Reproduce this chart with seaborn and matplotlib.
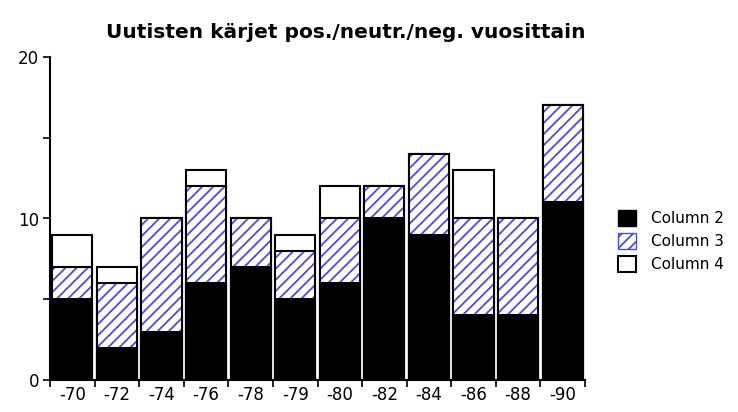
import matplotlib
matplotlib.use("Agg")
import matplotlib.pyplot as plt
import seaborn as sns
import pandas as pd
import numpy as np
from matplotlib.patches import Patch
from matplotlib.ticker import FixedLocator

categories = ["-70", "-72", "-74", "-76", "-78", "-79", "-80", "-82", "-84", "-86", "-88", "-90"]
col2 = [5, 2, 3, 6, 7, 5, 6, 10, 9, 4, 4, 11]
col3 = [2, 4, 7, 6, 3, 3, 4, 2, 5, 6, 6, 6]
col4 = [2, 1, 0, 1, 0, 1, 2, 0, 0, 3, 0, 0]
title = "Uutisten kärjet pos./neutr./neg. vuosittain"

sns.set_theme(style="white")
plt.rcParams['font.family'] = ['DejaVu Sans']
plt.rcParams['hatch.linewidth'] = 1.3
plt.rcParams['text.color'] = 'black'

df = pd.DataFrame({"cat": categories, "c2": col2, "c3": col3, "c4": col4})
df["s23"] = df["c2"] + df["c3"]
df["s234"] = df["s23"] + df["c4"]

fig = plt.figure(figsize=(7.38, 4.12), dpi=100)
ax = fig.add_axes([50/738, 1-380/412, (585-50)/738, (380-57)/412])

W = 0.9
LW = 1.5
HATCH_C = "#4a4af0"
sns.barplot(data=df, x="cat", y="s234", order=categories, color="white", saturation=1,
            edgecolor="black", linewidth=LW, width=W, ax=ax, errorbar=None)
sns.barplot(data=df, x="cat", y="s23", order=categories, color="white", saturation=1,
            edgecolor=HATCH_C, linewidth=0, hatch="///", width=W, ax=ax, errorbar=None)
sns.barplot(data=df, x="cat", y="s23", order=categories, fill=False,
            edgecolor="black", linewidth=LW, width=W, ax=ax, errorbar=None)
sns.barplot(data=df, x="cat", y="c2", order=categories, color="black", saturation=1,
            edgecolor="black", linewidth=LW, width=W, ax=ax, errorbar=None)

ax.set_xlim(-0.5, len(categories) - 0.5)
ax.set_ylim(0, 20)
ax.set_xlabel("")
ax.set_ylabel("")
ax.yaxis.set_major_locator(FixedLocator([0, 10, 20]))
ax.yaxis.set_minor_locator(FixedLocator([5, 15]))
ax.xaxis.set_minor_locator(FixedLocator(np.arange(-0.5, len(categories), 1.0)))
ax.tick_params(axis="x", which="major", length=0, labelsize=12, pad=4, colors="black")
ax.tick_params(axis="x", which="minor", length=5, width=1.2, direction="out", bottom=True, color="black")
ax.tick_params(axis="y", which="both", length=5, width=1.2, direction="out", left=True,
               labelsize=12, color="black", labelcolor="black", pad=3)
for s in ["top", "right"]:
    ax.spines[s].set_visible(False)
for s in ["left", "bottom"]:
    ax.spines[s].set_color("black")
    ax.spines[s].set_linewidth(1.5)
ax.grid(False)

fig.text(346/738, 1-33/412, title, ha="center", va="center", fontsize=14.5,
         fontweight="bold", color="black")

handles = [
    Patch(facecolor="black", edgecolor="black", label="Column 2"),
    Patch(facecolor="white", edgecolor=HATCH_C, hatch="///", label="Column 3"),
    Patch(facecolor="white", edgecolor="black", linewidth=1.5, label="Column 4"),
]
leg = fig.legend(handles=handles, loc="center left", bbox_to_anchor=(604/738, 1-241/412),
                 frameon=False, handlelength=1.2, handleheight=1.2, fontsize=11,
                 handletextpad=1.0, labelspacing=0.45)
for t in leg.get_texts():
    t.set_color("black")

fig.savefig("out.png", dpi=100)
